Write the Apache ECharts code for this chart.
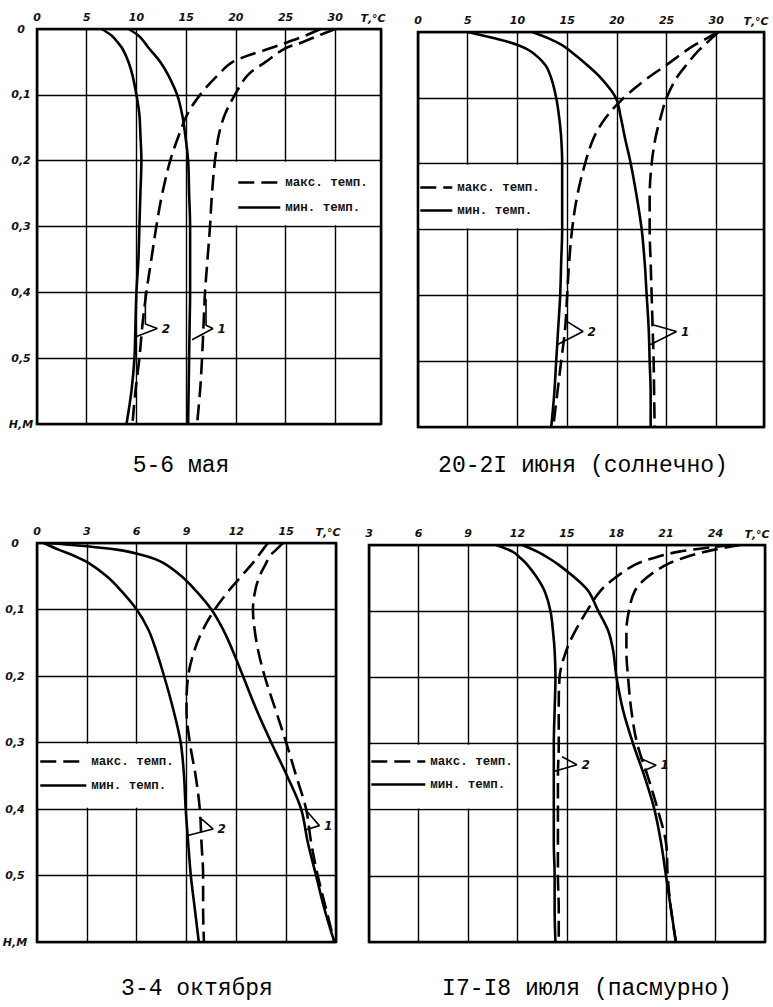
<!DOCTYPE html>
<html><head><meta charset="utf-8">
<script src="https://cdn.jsdelivr.net/npm/echarts@6/dist/echarts.min.js"></script>
<style>html,body{margin:0;padding:0;background:#fff}#c{width:773px;height:1007px}</style>
</head><body><div id="c"></div>
<script>
// ---------- DATA ----------
const depths = [0, 0.01, 0.02, 0.03, 0.05, 0.07, 0.1, 0.13, 0.16, 0.2, 0.25, 0.3, 0.35, 0.4, 0.45, 0.5, 0.55, 0.6];

// 5-6 мая
const mayMax1 = [30.0, 28.3, 26.7, 24.9, 23.0, 21.2, 19.9, 18.9, 18.3, 17.9, 17.6, 17.4, 17.15, 16.9, 16.75, 16.6, 16.4, 16.1];
const mayMin1 = [9.2, 10.2, 10.8, 11.3, 12.4, 13.2, 14.1, 14.6, 14.9, 15.2, 15.3, 15.4, 15.4, 15.4, 15.35, 15.3, 15.25, 15.2];
const mayMax2 = [28.5, 27.0, 25.2, 23.3, 19.7, 18.2, 16.4, 15.1, 14.3, 13.4, 12.6, 12.0, 11.5, 11.0, 10.6, 10.3, 9.9, 9.6];
const mayMin2 = [6.5, 7.5, 8.1, 8.6, 9.2, 9.6, 10.0, 10.3, 10.4, 10.5, 10.4, 10.3, 10.2, 10.0, 9.9, 9.8, 9.5, 9.0];

// 20-21 июня (солнечно)
const junMax1 = [30.2, 29.5, 28.8, 28.1, 27.0, 26.0, 25.0, 24.4, 23.9, 23.5, 23.3, 23.3, 23.4, 23.5, 23.6, 23.7, 23.75, 23.8];
const junMin1 = [11.5, 13.2, 14.5, 15.4, 17.0, 18.4, 19.9, 20.4, 20.8, 21.4, 22.0, 22.5, 22.8, 23.0, 23.2, 23.3, 23.4, 23.4];
const junMax2 = [30.2, 29.0, 27.8, 26.8, 25.0, 23.1, 20.7, 18.9, 17.7, 16.8, 16.0, 15.5, 15.2, 15.0, 14.8, 14.4, 14.0, 13.6];
const junMin2 = [5.0, 7.8, 10.1, 11.4, 12.8, 13.4, 13.9, 14.2, 14.4, 14.5, 14.5, 14.5, 14.4, 14.3, 14.1, 13.9, 13.7, 13.4];

// 3-4 октября
const octMax1 = [14.8, 14.4, 14.0, 13.8, 13.4, 13.15, 13.0, 13.1, 13.3, 13.7, 14.35, 15.0, 15.6, 16.2, 16.5, 16.9, 17.4, 17.9];
const octMin1 = [0.6, 4.8, 6.6, 7.6, 8.7, 9.5, 10.5, 11.2, 11.75, 12.4, 13.2, 14.1, 15.05, 15.9, 16.3, 16.8, 17.3, 17.9];
const octMax2 = [13.9, 13.6, 13.3, 13.0, 12.3, 11.6, 10.7, 10.0, 9.5, 9.1, 9.0, 9.2, 9.55, 9.8, 9.9, 10.0, 10.0, 10.05];
const octMin2 = [0.4, 1.3, 2.3, 3.1, 4.2, 5.0, 6.0, 6.7, 7.15, 7.65, 8.2, 8.65, 8.85, 8.95, 9.1, 9.26, 9.5, 9.74];

// 17-18 июля (пасмурно)
const julMax1 = [25.5, 23.4, 22.0, 21.0, 19.8, 19.1, 18.75, 18.6, 18.6, 18.7, 18.9, 19.25, 19.9, 20.5, 21.0, 21.1, 21.3, 21.6];
const julMin1 = [12.3, 13.2, 13.9, 14.5, 15.5, 16.3, 16.9, 17.5, 17.8, 18.0, 18.4, 19.0, 19.7, 20.3, 20.7, 21.0, 21.3, 21.6];
const julMax2 = [25.0, 21.8, 20.2, 19.1, 17.9, 17.0, 16.2, 15.5, 14.95, 14.55, 14.5, 14.5, 14.45, 14.45, 14.45, 14.45, 14.5, 14.5];
const julMin2 = [10.7, 11.7, 12.2, 12.6, 13.2, 13.65, 14.0, 14.15, 14.25, 14.3, 14.25, 14.2, 14.2, 14.2, 14.2, 14.25, 14.25, 14.3];

// text
const panelTitles = ['5-6 мая', '20-2I июня (солнечно)', '3-4 октября', 'I7-I8 июля (пасмурно)'];
const depthTickLabels = ['0', '0,1', '0,2', '0,3', '0,4', '0,5', 'Н,М'];
const tempAxisName = 'Т,°С';
const legendNames = ['макс. темп.', 'мин. темп.'];
const curveLabels = ['1', '2'];

// temperature axes: [min, max, step]
const tempAxes = [[0, 34.6, 5], [0, 34.8, 5], [0, 18, 3], [3, 27, 3]];

// leader lines (T, depth): pair-1 and pair-2 callouts; junction is where the number sits
const mayLeader1 = [[17.0, 0.41], [17.0, 0.45], [17.7, 0.455], [15.6, 0.472]];
const mayLeader2 = [[10.9, 0.40], [10.9, 0.448], [12.1, 0.455], [9.87, 0.468]];
const junLeader1 = [[23.7, 0.445], [26.0, 0.455], [23.35, 0.475]];
const junLeader2 = [[15.0, 0.44], [16.6, 0.455], [14.0, 0.475]];
const octLeader1 = [[16.3, 0.405], [17.0, 0.425], [16.1, 0.432]];
const octLeader2 = [[9.9, 0.415], [10.6, 0.43], [9.07, 0.44]];
const julLeader1 = [[19.4, 0.322], [20.4, 0.333], [19.6, 0.342]];
const julLeader2 = [[14.7, 0.32], [15.6, 0.332], [14.25, 0.342]];

// ---------- LAYOUT ----------
const grids = [
  {left: 37, top: 29, width: 344, height: 395},
  {left: 418, top: 32, width: 346, height: 395},
  {left: 37, top: 543, width: 299, height: 399},
  {left: 369, top: 545, width: 396, height: 397}
];
const titlePos = [[176, 449], [578, 449], [192, 972], [582, 972]];
const legendPos = [
  {left: 237, top: 176, itemWidth: 42, itemGap: 12},
  {left: 419, top: 181, itemWidth: 32, itemGap: 10},
  {left: 39, top: 755, itemWidth: 46, itemGap: 11},
  {left: 370, top: 755, itemWidth: 54, itemGap: 10}
];
// white boxes behind legends, in data coords [x0,x1,y0,y1]
const legendBoxes = [[19.85, 34.6, 0.2, 0.3], [0, 13, 0.2, 0.3], [0, 8.5, 0.3, 0.4], [3, 11.8, 0.3, 0.4]];

const panels = [
  {max1: mayMax1, min1: mayMin1, max2: mayMax2, min2: mayMin2, leaders: [[mayLeader1, 2], [mayLeader2, 2]]},
  {max1: junMax1, min1: junMin1, max2: junMax2, min2: junMin2, leaders: [[junLeader1, 1], [junLeader2, 1]]},
  {max1: octMax1, min1: octMin1, max2: octMax2, min2: octMin2, leaders: [[octLeader1, 1], [octLeader2, 1]]},
  {max1: julMax1, min1: julMin1, max2: julMax2, min2: julMin2, leaders: [[julLeader1, 1], [julLeader2, 1]]}
];

const INK = '#111';
const labelFont = {fontFamily: 'DejaVu Sans', fontStyle: 'italic', fontWeight: 'bold', fontSize: 11, color: INK};
const solidStyle = {color: '#000', width: 2.6, type: 'solid'};
const dashStyle = {color: '#000', width: 2.6, type: [16, 7]};

const option = {
  backgroundColor: '#fff',
  animation: false,
  title: panelTitles.map((t, i) => ({
    text: t, left: titlePos[i][0], top: titlePos[i][1], textAlign: 'center',
    textStyle: {fontFamily: 'Liberation Mono', fontSize: 23, fontWeight: 'normal', color: '#000'}
  })),
  legend: legendPos.map(p => ({
    data: legendNames, orient: 'vertical', left: p.left, top: p.top, padding: 0,
    itemWidth: p.itemWidth, itemHeight: 12, itemGap: p.itemGap, selectedMode: false,
    itemStyle: {opacity: 0, borderWidth: 0},
    lineStyle: {color: '#000', width: 2.6},
    textStyle: {fontFamily: 'Liberation Mono', fontWeight: 'bold', fontSize: 12.5, color: INK},
    z: 6
  })),
  grid: grids.map(g => Object.assign({show: true, borderColor: '#000', borderWidth: 2.6,
    backgroundColor: 'transparent', containLabel: false, outerBoundsMode: 'none'}, g)),
  xAxis: tempAxes.map((a, i) => ({
    type: 'value', gridIndex: i, position: 'top', min: a[0], max: a[1], interval: a[2],
    axisLine: {show: false}, axisTick: {show: false},
    splitLine: {show: true, lineStyle: {color: '#000', width: 1.4}},
    axisLabel: Object.assign({margin: 6, showMaxLabel: false, formatter: v => String(v)}, labelFont),
    name: tempAxisName, nameLocation: 'end', nameGap: -8,
    nameTextStyle: Object.assign({align: 'center', verticalAlign: 'bottom', padding: [0, 0, 5, 0]}, labelFont)
  })),
  yAxis: grids.map((g, i) => ({
    type: 'value', gridIndex: i, inverse: true, min: 0, max: 0.6, interval: 0.1,
    axisLine: {show: false}, axisTick: {show: false},
    splitLine: {show: true, lineStyle: {color: '#000', width: 1.4}},
    axisLabel: Object.assign({show: i === 0 || i === 2, margin: i === 0 ? 16 : 22, align: 'center',
      formatter: v => depthTickLabels[Math.round(v * 10)]}, labelFont)
  })),
  series: []
};

panels.forEach((p, i) => {
  const mk = (name, arr, style) => ({
    type: 'line', name: name, xAxisIndex: i, yAxisIndex: i, symbol: 'none', smooth: 0.35,
    data: depths.map((d, k) => [arr[k], d]), lineStyle: style, itemStyle: {color: '#000'}, z: 3, silent: true
  });
  option.series.push(mk(legendNames[0], p.max1, dashStyle));
  option.series.push(mk(legendNames[1], p.min1, solidStyle));
  option.series.push(mk(legendNames[0], p.max2, dashStyle));
  option.series.push(mk(legendNames[1], p.min2, solidStyle));
  p.leaders.forEach((ld, j) => {
    const pts = ld[0], jIdx = ld[1];
    option.series.push({
      type: 'line', name: 'leader' + i + j, xAxisIndex: i, yAxisIndex: i, smooth: false,
      symbol: 'circle', symbolSize: 1, itemStyle: {color: 'rgba(0,0,0,0)'}, silent: true, z: 4,
      lineStyle: {color: '#000', width: 1.6},
      data: pts.map((pt, k) => k === jIdx
        ? {value: pt, label: Object.assign({show: true, position: 'right', distance: 4, formatter: curveLabels[j]}, labelFont, {fontSize: 12})}
        : {value: pt})
    });
  });
});

const chart = echarts.init(document.getElementById('c'), null, {renderer: 'svg', width: 773, height: 1007});
chart.setOption(option);

// white boxes behind the legends (cover the grid lines only, curves stay on top)
const graphics = legendBoxes.map((b, i) => {
  const a = chart.convertToPixel({gridIndex: i}, [b[0], b[2]]);
  const c = chart.convertToPixel({gridIndex: i}, [b[1], b[3]]);
  const x0 = Math.min(a[0], c[0]) + (b[0] === tempAxes[i][0] ? 1.6 : -1.2);
  const x1 = Math.max(a[0], c[0]) - (b[1] === tempAxes[i][1] ? 1.6 : 0);
  const y0 = Math.min(a[1], c[1]) + 1.2;
  const y1 = Math.max(a[1], c[1]) - 1.2;
  return {type: 'rect', z: 1, silent: true, shape: {x: x0, y: y0, width: x1 - x0, height: y1 - y0},
    style: {fill: '#fff', stroke: null}};
});
chart.setOption({graphic: graphics});
</script>
</body></html>
